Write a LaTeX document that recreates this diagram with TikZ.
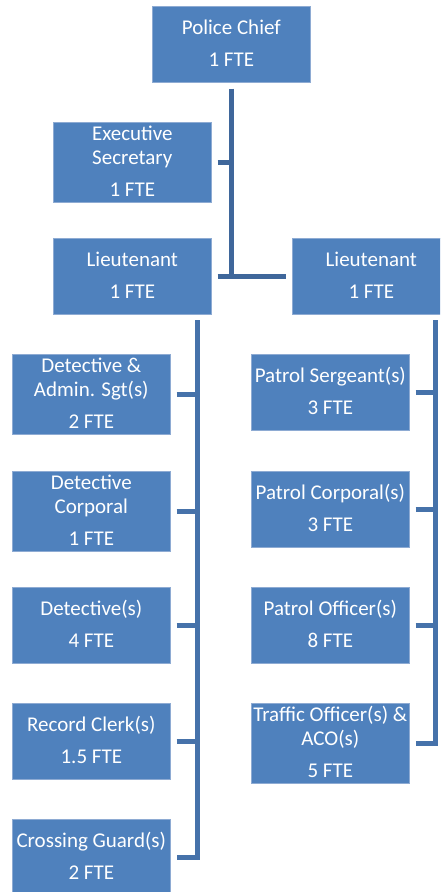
\documentclass[tikz,border=0pt]{standalone}
\usepackage{fontspec}
\setmainfont{Carlito}
\definecolor{boxblue}{HTML}{4F81BD}
\definecolor{boxedge}{HTML}{8EABD3}
\definecolor{conntop}{HTML}{3F679B}
\definecolor{connlow}{HTML}{4672AA}
\newcommand\ls{\rule[-6pt]{0pt}{24pt}}
\begin{document}
\begin{tikzpicture}[x=1pt,y=-1pt,
  orgbox/.style={rectangle, fill=boxblue, draw=boxedge, line width=0.6pt,
    minimum width=158pt, minimum height=76pt, inner sep=0pt, align=center,
    text=white, font=\fontsize{21}{24}\selectfont, anchor=north west},
  conn/.style={draw=connlow, line width=5pt},
  conntopst/.style={draw=conntop, line width=5pt}]
\useasboundingbox (0,0) rectangle (440,892);
\clip (0,0) rectangle (440,892);
% top level
\node[orgbox] (chief) at (152,6) {\ls Police Chief\\[8pt]\ls 1 FTE};
\node[orgbox] (sec) at (53,122) {\ls Executive\\\ls Secretary\\[8pt]\ls 1 FTE};
\node[orgbox] (ltl) at (53,238) {\ls Lieutenant\\[8pt]\ls 1 FTE};
\node[orgbox] (ltr) at (292,238) {\ls Lieutenant\\[8pt]\ls 1 FTE};
% left column
\node[orgbox] (das) at (12,354) {\ls Detective \&\\\ls Admin. Sgt(s)\\[8pt]\ls 2 FTE};
\node[orgbox] (dcp) at (12,471) {\ls Detective\\\ls Corporal\\[8pt]\ls 1 FTE};
\node[orgbox] (det) at (12,587) {\ls Detective(s)\\[8pt]\ls 4 FTE};
\node[orgbox] (rec) at (12,703) {\ls Record Clerk(s)\\[8pt]\ls 1.5 FTE};
\node[orgbox] (crg) at (12,819) {\ls Crossing Guard(s)\\[8pt]\ls 2 FTE};
% right column
\node[orgbox] (psg) at (251,354) {\ls Patrol Sergeant(s)\\[8pt]\ls 3 FTE};
\node[orgbox] (pcp) at (251,471) {\ls Patrol Corporal(s)\\[8pt]\ls 3 FTE};
\node[orgbox] (pof) at (251,587) {\ls Patrol Officer(s)\\[8pt]\ls 8 FTE};
\node[orgbox] (tof) at (251,703) {\ls Traffic Officer(s) \&\\\ls ACO(s)\\[8pt]\ls 5 FTE};
% bus coordinates
\coordinate (lbus) at (197.5,320);
\coordinate (rbus) at (435.5,320);
% top connectors
\draw[conntopst] ([yshift=-6pt]chief.south) -- (chief.south |- ltl.east);
\draw[conntopst] ([xshift=6pt]sec.east) -- (sec.east -| chief.south);
\draw[conntopst] ([xshift=6pt]ltl.east) -- ([xshift=-6pt]ltr.west);
% left bus
\draw[conn] (lbus) -- (lbus |- crg.east) -- ([xshift=6pt]crg.east);
\foreach \n in {das,dcp,det,rec}
  \draw[conn] ([xshift=6pt]\n.east) -- (lbus |- \n.east);
% right bus
\draw[conn] (rbus) -- (rbus |- tof.east) -- ([xshift=6pt]tof.east);
\foreach \n in {psg,pcp,pof}
  \draw[conn] ([xshift=6pt]\n.east) -- (rbus |- \n.east);
\end{tikzpicture}
\end{document}
